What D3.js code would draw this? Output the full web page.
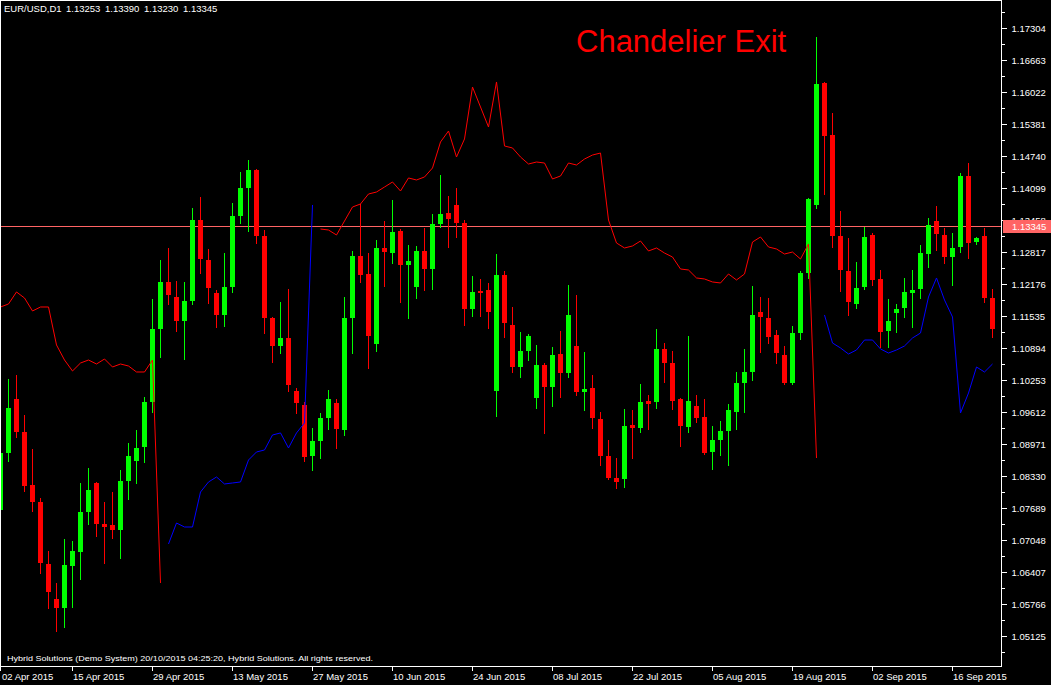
<!DOCTYPE html>
<html><head><meta charset="utf-8">
<script src="https://cdn.jsdelivr.net/npm/d3@7"></script>
<style>
html,body{margin:0;padding:0;background:#000;overflow:hidden;}
svg{display:block;}
text{font-family:"Liberation Sans",Arial,sans-serif;}
</style></head><body>
<svg id="chart" width="1051" height="685"></svg>
<script>
// ---------------- DATA ----------------
const symbolInfo = ["EUR/USD,D1", "1.13253", "1.13390", "1.13230", "1.13345"];
const currentPrice = 1.13345;
const titleText = "Chandelier Exit";
const footerText = "Hybrid Solutions (Demo System) 20/10/2015 04:25:20, Hybrid Solutions. All rights reserved.";

const opens = [1.07650,1.08792,1.09873,1.09213,1.08150,1.07810,1.06568,1.05867,1.05687,1.06528,
1.06809,1.07610,1.08191,1.07369,1.07349,1.07249,1.08231,1.08631,1.08912,1.09813,
1.11275,1.12217,1.11916,1.11435,1.11836,1.13458,1.12657,1.11997,1.11556,1.12117,
1.13539,1.14099,1.14460,1.13138,1.11496,1.10935,1.11095,1.10034,1.09753,1.08732,
1.09032,1.09493,1.09793,1.09253,1.11496,1.12737,1.12377,1.10975,1.12898,1.12797,
1.13238,1.12557,1.12117,1.12838,1.12477,1.13378,1.13599,1.13759,1.13398,1.11676,
1.12037,1.12057,1.10034,1.12357,1.11355,1.10514,1.10835,1.09893,1.10554,1.10114,
1.10774,1.10394,1.10935,1.10014,1.10094,1.09473,1.08732,1.08291,1.08271,1.09353,
1.09293,1.09833,1.09813,1.10875,1.10594,1.09873,1.09313,1.09733,1.09513,1.08812,
1.09052,1.09233,1.09613,1.10194,1.10414,1.11616,1.11496,1.11155,1.10754,1.10194,
1.11195,1.12397,1.13759,1.16203,1.15161,1.13138,1.12437,1.11776,1.12117,1.13158,
1.12277,1.11235,1.11596,1.11696,1.11997,1.12077,1.12777,1.13438,1.13158,1.12717,
1.12918,1.14340,1.13018,1.13138,1.11896];

const highs = [1.09072,1.10274,1.10354,1.09553,1.08872,1.07890,1.06829,1.06188,1.07069,1.07029,
1.08191,1.08491,1.08211,1.07810,1.08010,1.08451,1.08992,1.09253,1.09913,1.11876,
1.12657,1.12898,1.12237,1.12217,1.13699,1.13919,1.12878,1.12057,1.12797,1.13799,
1.14420,1.14660,1.14480,1.13258,1.11516,1.11816,1.12077,1.10094,1.09820,1.09293,
1.09593,1.10054,1.09873,1.11916,1.12838,1.13779,1.12797,1.13058,1.13438,1.13859,
1.13278,1.12958,1.12938,1.13298,1.13579,1.14360,1.13939,1.14099,1.13458,1.12337,
1.12277,1.12197,1.12777,1.12437,1.11716,1.11215,1.11175,1.10955,1.10594,1.10915,
1.11235,1.12157,1.11957,1.10815,1.10354,1.09613,1.09052,1.08691,1.09673,1.09653,
1.10174,1.09953,1.11275,1.10995,1.10835,1.09893,1.11135,1.09953,1.09873,1.09333,
1.09433,1.09773,1.10414,1.10875,1.12137,1.11916,1.11896,1.11255,1.10935,1.11335,
1.12437,1.13899,1.17124,1.16223,1.15602,1.13639,1.13098,1.12617,1.13318,1.13198,
1.12457,1.11876,1.11776,1.12297,1.12457,1.12958,1.13499,1.13739,1.13298,1.13198,
1.14400,1.14600,1.13118,1.13298,1.12077];

const lows = [1.07510,1.08631,1.09112,1.08030,1.07630,1.06388,1.05687,1.05226,1.05306,1.05707,
1.06268,1.07369,1.07129,1.06588,1.07089,1.06688,1.07870,1.08191,1.08611,1.09613,
1.10714,1.11776,1.11235,1.10674,1.11776,1.12397,1.11796,1.11315,1.11335,1.12017,
1.13398,1.13238,1.12998,1.11195,1.10614,1.10794,1.10034,1.09593,1.08631,1.08451,
1.08691,1.09273,1.08892,1.09152,1.10794,1.12217,1.10494,1.10835,1.12137,1.12597,
1.11816,1.11496,1.11896,1.12057,1.12077,1.13318,1.12918,1.13118,1.11355,1.11536,
1.11536,1.11295,1.09533,1.11115,1.10414,1.10314,1.10654,1.09693,1.09193,1.09733,
1.09913,1.10314,1.09953,1.09653,1.09293,1.08551,1.08271,1.08090,1.08110,1.08691,
1.09213,1.09273,1.09693,1.10214,1.09673,1.08932,1.09213,1.09413,1.08772,1.08471,
1.08752,1.08551,1.09273,1.09613,1.10254,1.10815,1.10995,1.10594,1.10174,1.10174,
1.11075,1.12297,1.13699,1.13979,1.12918,1.12037,1.11556,1.11696,1.12077,1.12157,
1.10915,1.10915,1.11215,1.11516,1.11315,1.11896,1.12517,1.12858,1.12597,1.12157,
1.12817,1.12697,1.12978,1.11816,1.11115];

const closes = [1.08792,1.09693,1.09213,1.08130,1.07810,1.06588,1.06008,1.05687,1.06548,1.06829,
1.07610,1.08050,1.07369,1.07309,1.07249,1.08231,1.08732,1.08892,1.09813,1.11275,
1.12217,1.11957,1.11435,1.11836,1.13458,1.12677,1.12097,1.11556,1.12117,1.13539,
1.14099,1.14460,1.13138,1.11496,1.10935,1.11095,1.10154,1.09793,1.08712,1.09032,
1.09493,1.09873,1.09273,1.11496,1.12737,1.12357,1.11135,1.12898,1.12817,1.13218,
1.12557,1.12637,1.12838,1.12477,1.13378,1.13579,1.13478,1.13398,1.11676,1.12017,
1.11997,1.11616,1.12357,1.11395,1.10514,1.10835,1.11135,1.10554,1.10114,1.10754,
1.10394,1.11556,1.10014,1.10074,1.09493,1.08732,1.08291,1.08211,1.09333,1.09293,
1.09813,1.09773,1.10875,1.10594,1.09833,1.09333,1.09833,1.09493,1.08792,1.09052,
1.09233,1.09653,1.10194,1.10414,1.11556,1.11516,1.11115,1.10794,1.10194,1.11195,
1.12397,1.13879,1.16183,1.15141,1.13138,1.12457,1.11816,1.12097,1.13118,1.12257,
1.11215,1.11435,1.11676,1.12017,1.12057,1.12797,1.13358,1.13178,1.12717,1.12898,
1.14340,1.12998,1.13098,1.11896,1.11275];

// Chandelier Exit: upper (short) stop in red, lower (long) stop in blue; null = not drawn
const chandelierShort = [1.11716,1.11776,1.12017,1.11896,1.11636,1.11716,1.11716,1.10955,1.10654,1.10434,
1.10594,1.10654,1.10574,1.10674,1.10514,1.10574,1.10534,1.10414,1.10414,1.10654,
1.06188,null,null,null,null,null,null,null,null,null,
null,null,null,null,null,null,null,null,null,null,
1.13278,1.13258,1.13158,1.13438,1.13719,1.13779,1.13979,1.14019,1.14119,1.14220,
1.14039,1.14300,1.14260,1.14320,1.14500,1.15021,1.15241,1.14720,1.15081,1.16122,
1.15722,1.15321,1.16223,1.14941,1.14901,1.14720,1.14580,1.14620,1.14600,1.14280,
1.14340,1.14600,1.14560,1.14680,1.14760,1.14800,1.13458,1.12998,1.12898,1.12938,
1.13038,1.12838,1.12898,1.12797,1.12717,1.12477,1.12457,1.12297,1.12277,1.12217,
1.12197,1.12377,1.12257,1.12377,1.13018,1.13118,1.12918,1.12878,1.12777,1.12817,
1.12677,1.12978,1.08691,null,null,null,null,null,null,null,
null,null,null,null,null,null,null,null,null,null,
null,null,null,null,null];

const chandelierLong = [null,null,null,null,null,null,null,null,null,null,
null,null,null,null,null,null,null,null,null,null,
null,1.06969,1.07389,1.07309,1.07309,1.08010,1.08211,1.08311,1.08171,1.08191,
1.08211,1.08651,1.08812,1.08852,1.09152,1.09193,1.08892,1.09193,1.09393,1.13759,
null,null,null,null,null,null,null,null,null,null,
null,null,null,null,null,null,null,null,null,null,
null,null,null,null,null,null,null,null,null,null,
null,null,null,null,null,null,null,null,null,null,
null,null,null,null,null,null,null,null,null,null,
null,null,null,null,null,null,null,null,null,null,
null,null,null,1.11556,1.10995,1.10895,1.10774,1.10855,1.11055,1.11055,
1.10875,1.10794,1.10855,1.10935,1.11095,1.11195,1.11916,1.12297,1.11856,1.11516,
1.09593,1.09993,1.10514,1.10414,1.10574];

// axis ticks
const priceTicks = [1.17304,1.16663,1.16022,1.15381,1.14740,1.14099,1.13458,1.12817,1.12176,1.11535,
1.10894,1.10253,1.09612,1.08971,1.08330,1.07689,1.07048,1.06407,1.05766,1.05125];
const dateTickBars = [0,9,19,29,39,49,59,69,79,89,99,109,119];
const dateTickLabels = ["02 Apr 2015","15 Apr 2015","29 Apr 2015","13 May 2015","27 May 2015","10 Jun 2015",
"24 Jun 2015","08 Jul 2015","22 Jul 2015","05 Aug 2015","19 Aug 2015","02 Sep 2015","16 Sep 2015"];

// ---------------- DRAW ----------------
const W = 1051, H = 685;
const plotR = 1001, plotB = 666;
const svg = d3.select("#chart");
svg.append("rect").attr("width", W).attr("height", H).attr("fill", "#000");
const defs = svg.append("defs");

const n = closes.length;
const x = d3.scaleLinear().domain([0, n]).range([0, n * 8]);
const yTop = 1.17865, pxPerUnit = 0.0002003;
const y = d3.scaleLinear().domain([yTop - 667 * pxPerUnit, yTop]).range([667, 0]);

const cx = i => Math.round(x(i)) + 0.5;
const cy = Math.round(y(currentPrice));

defs.append("clipPath").attr("id", "plotClip")
  .append("rect").attr("x", 0).attr("y", 0).attr("width", plotR).attr("height", plotB);

const plot = svg.append("g").attr("clip-path", "url(#plotClip)");

const bars = d3.range(n).map(i => ({i, o: opens[i], h: highs[i], l: lows[i], c: closes[i]}));
const colorOf = d => d.c > d.o ? "#00ff00" : "#ff0000";

// current price line
plot.append("line")
  .attr("x1", 0).attr("x2", plotR)
  .attr("y1", cy + 0.5).attr("y2", cy + 0.5)
  .attr("stroke", "#ff6464").attr("stroke-width", 1).attr("shape-rendering", "crispEdges");

// wicks
plot.append("g").selectAll("line").data(bars).join("line")
  .attr("x1", d => cx(d.i)).attr("x2", d => cx(d.i))
  .attr("y1", d => Math.round(y(d.h))).attr("y2", d => Math.round(y(d.l)) + 1)
  .attr("stroke", colorOf).attr("stroke-width", 1).attr("shape-rendering", "crispEdges");

// bodies
plot.append("g").selectAll("rect").data(bars).join("rect")
  .attr("x", d => Math.round(x(d.i)) - 2).attr("width", 5)
  .attr("y", d => Math.round(y(Math.max(d.o, d.c))))
  .attr("height", d => Math.max(1, Math.round(y(Math.min(d.o, d.c))) - Math.round(y(Math.max(d.o, d.c)))))
  .attr("fill", colorOf).attr("shape-rendering", "crispEdges");

// chandelier lines
const line = d3.line().defined(d => d.v != null).x(d => cx(d.i)).y(d => y(d.v));
plot.append("path").datum(chandelierShort.map((v, i) => ({i, v})))
  .attr("d", line).attr("fill", "none").attr("stroke", "#ff0000").attr("stroke-width", 1);
plot.append("path").datum(chandelierLong.map((v, i) => ({i, v})))
  .attr("d", line).attr("fill", "none").attr("stroke", "#0000ff").attr("stroke-width", 1);

// frame
svg.append("path")
  .attr("d", `M0.5,${plotB + 0.5}V0.5H${plotR + 0.5}V${plotB + 0.5}H0.5`)
  .attr("fill", "none").attr("stroke", "#ffffff").attr("stroke-width", 1).attr("shape-rendering", "crispEdges");

// price axis
const yAxis = d3.axisRight(y).tickValues(priceTicks).tickSize(5).tickPadding(6)
  .tickFormat(d3.format(".5f"));
const ya = svg.append("g").attr("transform", `translate(${plotR + 0.5},0)`).call(yAxis);
ya.select(".domain").remove();
ya.selectAll(".tick line").attr("stroke", "#fff").attr("shape-rendering", "crispEdges");
ya.selectAll(".tick").attr("transform", d => `translate(0,${Math.round(y(d)) + 0.5})`);
ya.selectAll(".tick text").attr("fill", "#fff").attr("font-size", "9.5px")
  .attr("font-family", "Liberation Sans, Arial, sans-serif").attr("x", 10);

// the label nearest the current price box is partly hidden behind it, as in the terminal:
// clip it in its own (tick-local) coordinates so only the part above the box shows
ya.selectAll(".tick").filter(d => Math.abs(y(d) - y(currentPrice)) < 10).each(function(d) {
  const ty = Math.round(y(d)) + 0.5;
  defs.append("clipPath").attr("id", "aboveBox")
    .append("rect").attr("x", 0).attr("y", -20).attr("width", 60).attr("height", (cy - 6) - ty + 20);
  d3.select(this).select("text").attr("clip-path", "url(#aboveBox)");
});

// minor price ticks
const step = priceTicks[0] - priceTicks[1];
const minor = [priceTicks[0] + step / 2].concat(priceTicks.map(p => p - step / 2));
svg.append("g").selectAll("line").data(minor).join("line")
  .attr("x1", plotR + 0.5).attr("x2", plotR + 4)
  .attr("y1", d => Math.round(y(d)) + 0.5).attr("y2", d => Math.round(y(d)) + 0.5)
  .attr("stroke", "#fff").attr("shape-rendering", "crispEdges");

// current price label
svg.append("rect").attr("x", plotR + 2).attr("y", cy - 6).attr("width", W - plotR - 2).attr("height", 13)
  .attr("fill", "#ff6464");
svg.append("text").attr("x", plotR + 11).attr("y", cy + 0.5).attr("dy", "0.35em")
  .attr("fill", "#fff").attr("font-size", "9.5px").text(d3.format(".5f")(currentPrice));

// time axis
const xa = svg.append("g");
xa.selectAll("line").data(dateTickBars).join("line")
  .attr("x1", d => cx(d)).attr("x2", d => cx(d))
  .attr("y1", plotB + 1).attr("y2", plotB + 5)
  .attr("stroke", "#fff").attr("shape-rendering", "crispEdges");
xa.selectAll("text").data(dateTickBars).join("text")
  .attr("x", d => Math.max(2, Math.round(x(d)) + 1)).attr("y", 680)
  .attr("fill", "#fff").attr("font-size", "9.5px")
  .text((d, k) => dateTickLabels[k]);

// header
const hx = [4, 66, 105, 144, 183];
svg.append("g").selectAll("text").data(symbolInfo).join("text")
  .attr("x", (d, k) => hx[k]).attr("y", 11.5)
  .attr("fill", "#fff").attr("font-size", "9.5px").text(d => d);

// title
svg.append("text").attr("x", 576).attr("y", 52).attr("fill", "#ff0000")
  .attr("font-size", "31px").text(titleText);

// footer
svg.append("text").attr("x", 7).attr("y", 660.5).attr("fill", "#fff")
  .attr("font-size", "7.5px").attr("textLength", 366).attr("lengthAdjust", "spacingAndGlyphs")
  .text(footerText);
</script>
</body></html>
